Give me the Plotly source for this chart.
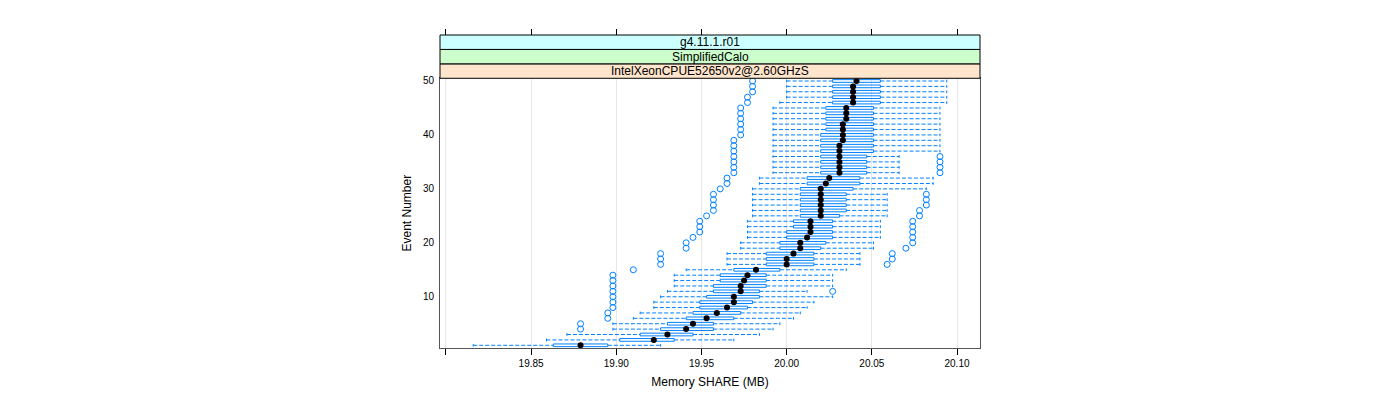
import plotly.graph_objects as go

events = list(range(1, 51))

lower_whisker = [19.816, 19.859, 19.871, 19.898, 19.898, 19.910, 19.914, 19.922, 19.922, 19.926,
                 19.930, 19.934, 19.934, 19.934, 19.941, 19.965, 19.965, 19.965, 19.973, 19.973,
                 19.977, 19.977, 19.977, 19.977, 19.980, 19.980, 19.980, 19.980, 19.980, 19.980,
                 19.984, 19.984, 19.992, 19.992, 19.992, 19.992, 19.992, 19.992, 19.992, 19.992,
                 19.992, 19.992, 19.992, 19.992, 19.992, 19.996, 20.000, 20.000, 20.000, 20.000]
q1 = [19.863, 19.902, 19.914, 19.926, 19.930, 19.941, 19.945, 19.949, 19.949, 19.953,
      19.957, 19.957, 19.961, 19.961, 19.969, 19.988, 19.988, 19.988, 19.996, 19.996,
      20.000, 20.000, 20.004, 20.004, 20.008, 20.008, 20.008, 20.008, 20.008, 20.008,
      20.012, 20.012, 20.020, 20.020, 20.020, 20.020, 20.020, 20.020, 20.020, 20.020,
      20.023, 20.023, 20.023, 20.023, 20.023, 20.027, 20.027, 20.027, 20.027, 20.027]
median = [19.879, 19.922, 19.930, 19.941, 19.945, 19.953, 19.959, 19.965, 19.969, 19.969,
          19.973, 19.973, 19.975, 19.977, 19.982, 20.000, 20.000, 20.004, 20.008, 20.008,
          20.012, 20.014, 20.014, 20.014, 20.020, 20.020, 20.020, 20.020, 20.020, 20.020,
          20.023, 20.025, 20.031, 20.031, 20.031, 20.031, 20.031, 20.031, 20.033, 20.033,
          20.033, 20.033, 20.035, 20.035, 20.035, 20.039, 20.039, 20.039, 20.039, 20.041]
q3 = [19.895, 19.934, 19.945, 19.957, 19.957, 19.969, 19.973, 19.977, 19.980, 19.984,
      19.984, 19.988, 19.988, 19.988, 19.996, 20.016, 20.016, 20.016, 20.020, 20.023,
      20.027, 20.027, 20.027, 20.027, 20.031, 20.035, 20.035, 20.035, 20.035, 20.039,
      20.043, 20.043, 20.047, 20.047, 20.047, 20.047, 20.051, 20.051, 20.051, 20.051,
      20.051, 20.051, 20.051, 20.051, 20.051, 20.055, 20.055, 20.055, 20.055, 20.055]
upper_whisker = [19.926, 19.969, 19.984, 19.992, 19.996, 20.004, 20.008, 20.012, 20.016, 20.027,
                 20.012, 20.027, 20.027, 20.027, 20.035, 20.043, 20.043, 20.043, 20.051, 20.051,
                 20.055, 20.055, 20.055, 20.055, 20.059, 20.059, 20.059, 20.059, 20.059, 20.082,
                 20.086, 20.086, 20.066, 20.066, 20.066, 20.066, 20.090, 20.090, 20.090, 20.090,
                 20.090, 20.090, 20.090, 20.090, 20.090, 20.094, 20.094, 20.094, 20.094, 20.094]
outliers = [[], [], [], [19.879], [19.879], [19.895], [19.895], [19.898], [19.898], [19.898],
            [19.898, 20.027], [19.898], [19.898], [19.898], [19.910],
            [19.926, 20.059], [19.926, 20.062], [19.926, 20.062], [19.941, 20.070], [19.941, 20.074],
            [19.945, 20.074], [19.949, 20.074], [19.949, 20.074], [19.949, 20.074], [19.953, 20.078],
            [19.957, 20.078], [19.957, 20.082], [19.957, 20.082], [19.957, 20.082], [19.961],
            [19.965], [19.965], [19.969, 20.090], [19.969, 20.090], [19.969, 20.090], [19.969, 20.090],
            [19.969], [19.969], [19.969], [19.973],
            [19.973], [19.973], [19.973], [19.973], [19.973],
            [19.977], [19.977], [19.980], [19.980], [19.980]]

strip_labels = ["IntelXeonCPUE52650v2@2.60GHzS", "SimplifiedCalo", "g4.11.1.r01"]
strip_colors = ["#FFE5CC", "#CCFFCC", "#CCFFFF"]
x_tickvals = [19.80, 19.85, 19.90, 19.95, 20.00, 20.05, 20.10]
x_ticktext = ["", "19.85", "19.90", "19.95", "20.00", "20.05", "20.10"]
y_tickvals = [10, 20, 30, 40, 50]

BLUE = "#0080FF"
FONT = "Liberation Sans, Arial, sans-serif"

fig = go.Figure()

# whiskers (dashed)
wx, wy = [], []
for e, lo, a, b, hi in zip(events, lower_whisker, q1, q3, upper_whisker):
    wx += [lo, a, None, b, hi, None]
    wy += [e, e, None, e, e, None]
fig.add_trace(go.Scatter(x=wx, y=wy, mode="lines",
                         line=dict(color=BLUE, width=1, dash="4px,2px"),
                         hoverinfo="skip", showlegend=False))
# whisker caps
cx, cy = [], []
for e, lo, hi in zip(events, lower_whisker, upper_whisker):
    cx += [lo, lo, None, hi, hi, None]
    cy += [e - 0.25, e + 0.25, None, e - 0.25, e + 0.25, None]
fig.add_trace(go.Scatter(x=cx, y=cy, mode="lines",
                         line=dict(color=BLUE, width=1),
                         hoverinfo="skip", showlegend=False))
# boxes
fig.add_trace(go.Bar(y=events, x=[b - a for a, b in zip(q1, q3)], base=q1,
                     orientation="h", width=0.5,
                     marker=dict(color="rgba(255,255,255,0)", line=dict(color=BLUE, width=1)),
                     showlegend=False))
# outliers
ox, oy = [], []
for e, outs in zip(events, outliers):
    for v in outs:
        ox.append(v)
        oy.append(e)
fig.add_trace(go.Scatter(x=ox, y=oy, mode="markers",
                         marker=dict(symbol="circle-open", size=6, color=BLUE, line=dict(width=1)),
                         showlegend=False))
# medians
fig.add_trace(go.Scatter(x=median, y=events, mode="markers",
                         marker=dict(symbol="circle", size=6, color="black"),
                         showlegend=False))
# invisible trace for the top axis
fig.add_trace(go.Scatter(x=[x_tickvals[0]], y=[events[0]], xaxis="x2", mode="markers",
                         marker=dict(opacity=0), hoverinfo="skip", showlegend=False))

panel_top = 0.8617
strip_h = (1.0 - panel_top) / 3
shapes = []
annotations = []
for i, (lab, col) in enumerate(zip(strip_labels, strip_colors)):
    y0 = panel_top + i * strip_h
    y1 = y0 + strip_h
    shapes.append(dict(type="rect", xref="paper", yref="paper", x0=0, x1=1, y0=y0, y1=y1,
                       fillcolor=col, line=dict(color="black", width=1), layer="above"))
    annotations.append(dict(text=lab, xref="paper", yref="paper", x=0.5, y=(y0 + y1) / 2,
                            showarrow=False, font=dict(family=FONT, size=12, color="black"),
                            xanchor="center", yanchor="middle"))

xrange = [19.7965, 20.1135]
fig.update_layout(
    width=1400, height=400,
    margin=dict(l=432, r=428, t=27, b=60),
    paper_bgcolor="white", plot_bgcolor="white",
    font=dict(family=FONT, size=10, color="black"),
    barmode="overlay",
    shapes=shapes, annotations=annotations,
    xaxis=dict(range=xrange, tickvals=x_tickvals, ticktext=x_ticktext,
               ticks="outside", ticklen=6, tickcolor="black",
               showgrid=True, gridcolor="#E6E6E6", gridwidth=1,
               showline=True, linecolor="#555555", linewidth=1, mirror=True,
               zeroline=False,
               title=dict(text="Memory SHARE (MB)", font=dict(family=FONT, size=12), standoff=9),
               tickfont=dict(family=FONT, size=10)),
    xaxis2=dict(range=xrange, overlaying="x", anchor="free", position=1.0, side="top",
                tickvals=x_tickvals, showticklabels=False, ticks="outside", ticklen=6,
                tickcolor="black", showgrid=False, showline=False, zeroline=False),
    yaxis=dict(domain=[0, panel_top], range=[0.5, 50.5], tickvals=y_tickvals,
               ticks="outside", ticklen=3, tickcolor="rgba(0,0,0,0)",
               showgrid=False, showline=True, linecolor="#555555", linewidth=1, mirror=True,
               zeroline=False,
               title=dict(text="Event Number", font=dict(family=FONT, size=12), standoff=8),
               tickfont=dict(family=FONT, size=10)),
)

fig.write_html("out.html")
